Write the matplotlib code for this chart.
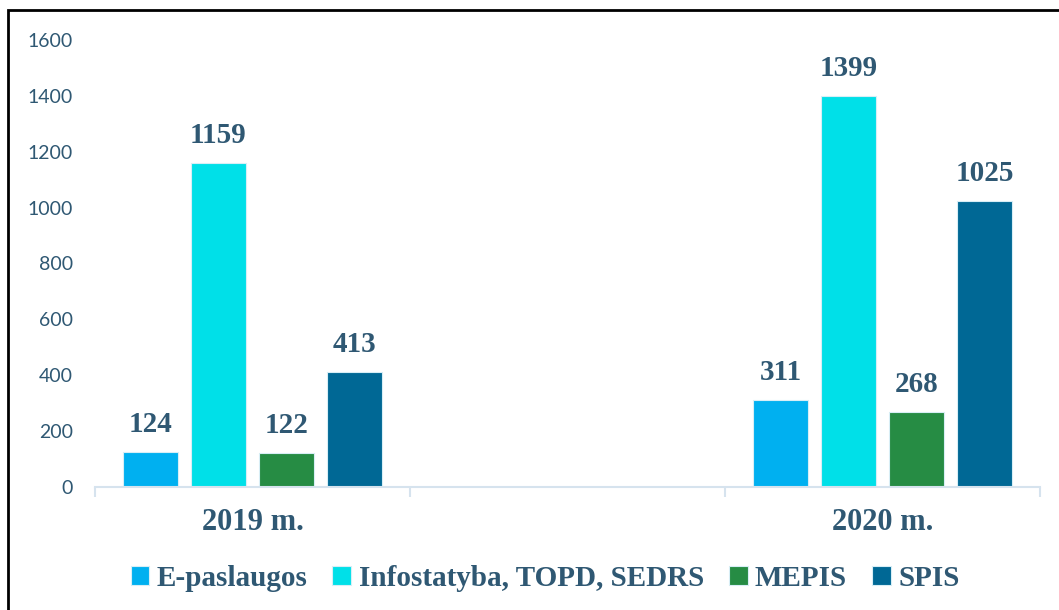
import numpy as np
import matplotlib.pyplot as plt
from matplotlib.patches import Rectangle

# ---- data ----
categories = ["2019 m.", "", "2020 m."]
series = ["E-paslaugos", "Infostatyba, TOPD, SEDRS", "MEPIS", "SPIS"]
e_paslaugos = [124, None, 311]
infostatyba = [1159, None, 1399]
mepis = [122, None, 268]
spis = [413, None, 1025]
colors = ["#00B0F0", "#00E0E8", "#268C44", "#006895"]
yticks = [0, 200, 400, 600, 800, 1000, 1200, 1400, 1600]

TXT = "#2F5873"
SERIF = ["Liberation Serif", "DejaVu Serif"]

fig = plt.figure(figsize=(10.59, 6.10), dpi=100)
ax = fig.add_axes([95 / 1059, 123 / 610, 945 / 1059, 447 / 610])

x = np.arange(len(categories))
width = 0.175
step = 0.216
offsets = (np.arange(4) - 1.5) * step

for vals, name, col, off in zip([e_paslaugos, infostatyba, mepis, spis], series, colors, offsets):
    xs = [xi + off for xi, v in zip(x, vals) if v is not None]
    ys = [v for v in vals if v is not None]
    bars = ax.bar(xs, ys, width, color=col, label=name, edgecolor="#d8eef6", linewidth=0.8)
    for b, v in zip(bars, ys):
        ax.annotate(str(v), (b.get_x() + b.get_width() / 2, v), xytext=(0, 10),
                    textcoords="offset points", ha="center", va="bottom",
                    fontsize=21, fontweight="bold", color=TXT, family=SERIF)

ax.set_xlim(-0.5, 2.5)
ax.set_ylim(0, 1600)
ax.set_yticks(yticks)
ax.tick_params(axis="y", length=0, labelsize=14, labelcolor=TXT, pad=16)
for lab in ax.get_yticklabels():
    lab.set_family(["Lato", "DejaVu Sans"])

# category boundaries as ticks, labels at centres
ax.set_xticks([-0.5, 0.5, 1.5, 2.5])
ax.set_xticklabels([])
ax.tick_params(axis="x", length=7, width=1.5, color="#D6E3EE", direction="out")
ax.set_xticks(x, minor=True)
ax.set_xticklabels(categories, minor=True, fontsize=22, fontweight="bold", color=TXT, family=SERIF)
ax.tick_params(axis="x", which="minor", length=0, pad=15)

for s in ["top", "right", "left"]:
    ax.spines[s].set_visible(False)
ax.spines["bottom"].set_color("#D6E3EE")
ax.spines["bottom"].set_linewidth(1.5)

leg = fig.legend(loc="center", bbox_to_anchor=(545 / 1059, 32 / 610), ncol=4, frameon=False,
                 handlelength=0.65, handleheight=0.65, handletextpad=0.25, columnspacing=0.85,
                 prop={"family": SERIF, "weight": "bold", "size": 21})
for t in leg.get_texts():
    t.set_color(TXT)

fig.add_artist(Rectangle((8 / 1059, -0.01), 1.02, 1 - 10 / 610 + 0.01, transform=fig.transFigure,
                         fill=False, edgecolor="black", linewidth=2))

fig.savefig("out.png", dpi=100)
